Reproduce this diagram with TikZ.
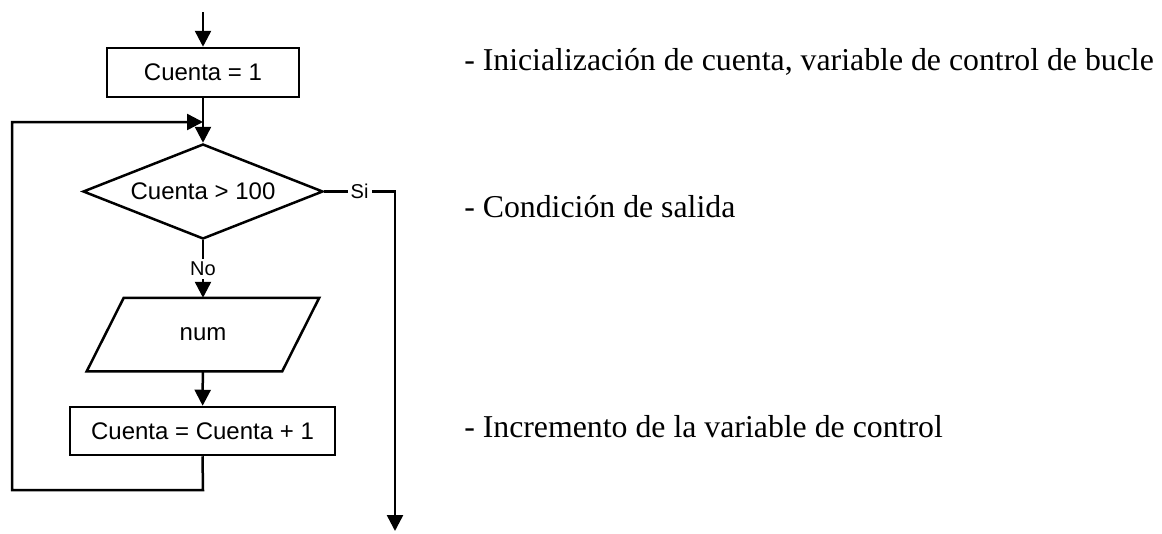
\documentclass[tikz,border=0pt]{standalone}
\usepackage{fontspec}
\setmainfont{Liberation Serif}
\setsansfont{Liberation Sans}
\usetikzlibrary{shapes.geometric,arrows.meta,calc}
\begin{document}
\begin{tikzpicture}[x=1pt,y=-1pt,
  line width=2.5pt,
  boxfont/.style={font=\sffamily\fontsize{24}{28}\selectfont},
  proc/.style={draw, rectangle, inner sep=0pt, boxfont},
  decision/.style={draw, diamond, aspect=2.53, inner sep=0pt, minimum width=240pt, minimum height=95pt, boxfont},
  io/.style={rectangle, minimum width=230pt, minimum height=71pt, inner sep=0pt, boxfont},
  lbl/.style={fill=white, inner sep=3pt, font=\sffamily\fontsize{20}{24}\selectfont},
  note/.style={anchor=base west, inner sep=0pt, font=\rmfamily\fontsize{31.8}{38}\selectfont},
  arr/.style={-{Triangle[length=16pt,width=16pt]}}
]
\useasboundingbox (0,0) rectangle (1162,533);

\coordinate (start) at (203,12);
\node[proc, minimum width=192pt, minimum height=49pt] (init) at (203,72.5) {Cuenta = 1};
\coordinate (merge) at (203,122);
\node[decision] (cond) at (203,191.5) {Cuenta > 100};
\node[io] (read) at (203,334.5) {num};
\draw[line join=miter] (read.south west) -- ($(read.north west)+(37,0)$) -- (read.north east)
  -- ($(read.south east)+(-37,0)$) -- cycle;
\node[proc, minimum width=265pt, minimum height=48pt] (inc) at (202.5,431) {Cuenta = Cuenta + 1};
\coordinate (loopB) at (203,490);
\coordinate (loopL) at (12,490);
\coordinate (exitC) at (395,191.5);
\coordinate (exitE) at (395,531);

\draw[arr] (start) -- (init);
\draw[arr] (init) -- (cond);
\draw[arr] (cond) -- node[lbl]{No} (read);
\draw[arr] (read) -- (inc);
\draw[arr] (inc.south) -- (loopB) -- (loopL) |- (merge);
\draw[arr] (cond.east) -- node[lbl]{Si} (exitC) -- (exitE);

\node[note] (n1) at (463,70) {- Inicialización de cuenta, variable de control de bucle};
\node[note] (n2) at (463,217) {- Condición de salida};
\node[note] (n3) at (463,437) {- Incremento de la variable de control};
\end{tikzpicture}
\end{document}
